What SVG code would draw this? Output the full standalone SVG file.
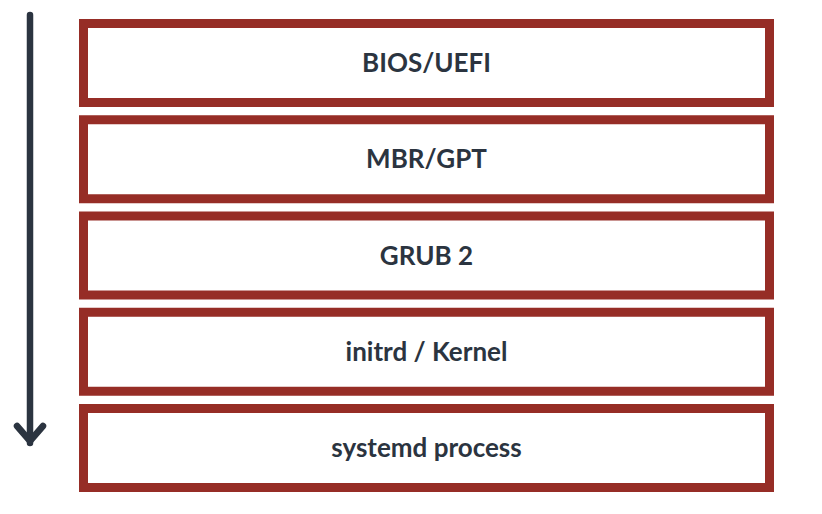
<svg xmlns="http://www.w3.org/2000/svg" width="822" height="514" viewBox="0 0 822 514">
<style>
.box{fill:#ffffff;stroke:#962d26;stroke-width:9}
.lbl{font-family:"Lato","Open Sans",sans-serif;font-weight:bold;font-size:26px;fill:#2b3440;text-anchor:middle;dominant-baseline:central}
.arr{fill:none;stroke:#2b3440;stroke-width:6.5;stroke-linecap:round;stroke-linejoin:round}
</style>
<rect width="822" height="514" fill="#ffffff"/>
<g id="connectors">
<path class="arr" d="M30 15 V443"/>
<path class="arr" d="M17 426 L30 441 L43 426"/>
</g>
<g id="n1"><rect class="box" x="83.5" y="23.5" width="686" height="79"/><text class="lbl" x="426.5" y="62">BIOS/UEFI</text></g>
<g id="n2"><rect class="box" x="83.5" y="119.75" width="686" height="79"/><text class="lbl" x="426.5" y="158">MBR/GPT</text></g>
<g id="n3"><rect class="box" x="83.5" y="216" width="686" height="79"/><text class="lbl" x="426.5" y="255">GRUB 2</text></g>
<g id="n4"><rect class="box" x="83.5" y="312.25" width="686" height="79"/><text class="lbl" x="426.5" y="351">initrd / Kernel</text></g>
<g id="n5"><rect class="box" x="83.5" y="408.5" width="686" height="79"/><text class="lbl" x="426.5" y="447">systemd process</text></g>
</svg>
